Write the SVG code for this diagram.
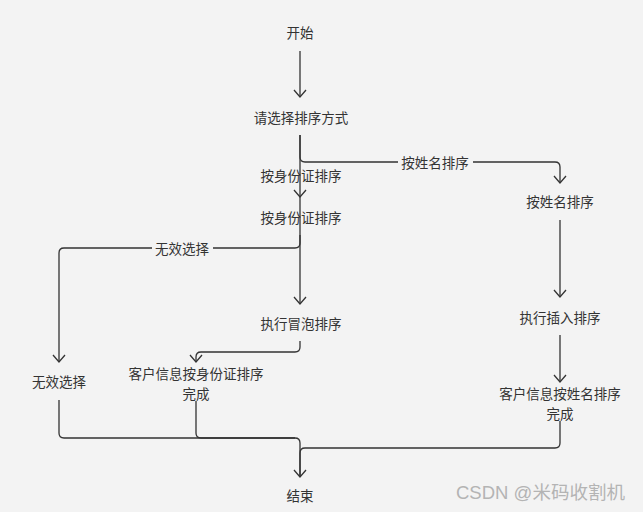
<svg xmlns="http://www.w3.org/2000/svg" width="643" height="512" viewBox="0 0 643 512">
<defs>
<style>
.t{font-family:"Noto Sans CJK SC","Microsoft YaHei",sans-serif;font-size:13.5px;fill:#333;text-anchor:middle;dominant-baseline:central}
.c{fill:none;stroke:#333;stroke-width:1.3}
.a{marker-end:url(#arr)}
.wm{font-family:"Liberation Sans","Noto Sans CJK SC",sans-serif;font-size:18px;fill:#b4b4b4;dominant-baseline:central}
</style>
<marker id="arr" markerUnits="userSpaceOnUse" viewBox="-10 -8 12 16" refX="0" refY="0" markerWidth="12" markerHeight="16" orient="auto">
<path d="M-7,-6 L0,0 L-7,6" fill="none" stroke="#333" stroke-width="1.3"/>
</marker>
</defs>
<rect width="643" height="512" fill="#f3f3f3"/>
<g id="connectors">
<path class="c a" d="M300,51 V97"/>
<path class="c a" d="M300,135 V197"/>
<path class="c a" d="M300,197 V304"/>
<path class="c a" d="M300,135 V157 Q300,162 305,162 H555 Q560,162 560,167 V183"/>
<path class="c a" d="M300,235 V243 Q300,248 295,248 H64 Q59,248 59,253 V362"/>
<path class="c a" d="M300,341 V347 Q300,352 295,352 H201 Q196,352 196,357 V362"/>
<path class="c" d="M196,401 V433 Q196,438 201,438 H295 Q300,438 300,443 V477"/>
<path class="c" d="M59,400 V433 Q59,438 64,438 H295"/>
<path class="c a" d="M560,220 V297"/>
<path class="c a" d="M560,335 V382"/>
<path class="c a" d="M560,421 V443 Q560,448 555,448 H305 Q300,448 300,453 V477"/>
<rect x="398" y="154" width="75" height="16" fill="#f3f3f3"/>
<text class="t" x="435" y="162">按姓名排序</text>
<rect x="152" y="240" width="61" height="16" fill="#f3f3f3"/>
<text class="t" x="182" y="248">无效选择</text>
<text class="t" x="301" y="175">按身份证排序</text>
</g>
<g id="start"><text class="t" x="300" y="32">开始</text></g>
<g id="choose"><text class="t" x="301" y="117">请选择排序方式</text></g>
<g id="byid"><text class="t" x="301" y="217">按身份证排序</text></g>
<g id="byname"><text class="t" x="560" y="201">按姓名排序</text></g>
<g id="bubble"><text class="t" x="301" y="323">执行冒泡排序</text></g>
<g id="insert"><text class="t" x="560" y="317">执行插入排序</text></g>
<g id="invalid"><text class="t" x="59" y="381">无效选择</text></g>
<g id="iddone"><text class="t" x="196" y="373">客户信息按身份证排序<tspan x="196" dy="20">完成</tspan></text></g>
<g id="namedone"><text class="t" x="560" y="393">客户信息按姓名排序<tspan x="560" dy="20">完成</tspan></text></g>
<g id="end"><text class="t" x="300" y="495">结束</text></g>
<text class="wm" x="456" y="493" textLength="169" lengthAdjust="spacingAndGlyphs">CSDN @米码收割机</text>
</svg>
